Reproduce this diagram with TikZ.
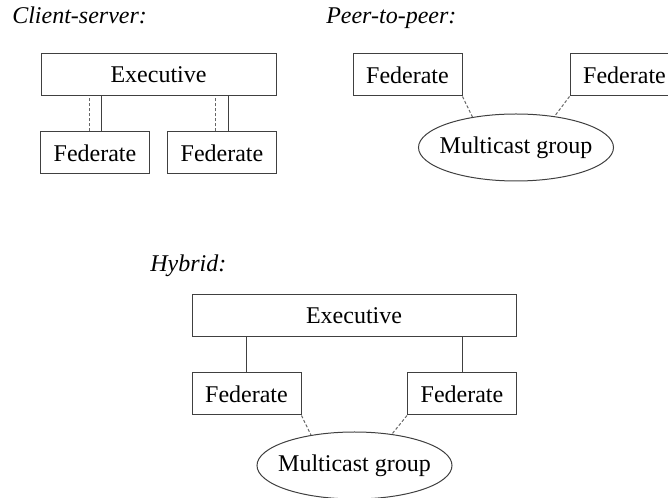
\documentclass[tikz,border=0pt]{standalone}
\usepackage{fontspec}
\setmainfont{Liberation Serif}
\usetikzlibrary{shapes.geometric}

\tikzset{
  box/.style={draw=black!75, line width=0.75pt, inner sep=0pt,
    minimum width=109*0.75pt, minimum height=42*0.75pt,
    font=\fontsize{18}{21}\selectfont},
  group/.style={ellipse, draw=black!75, line width=0.75pt, inner ysep=0pt, inner xsep=-6pt,
    minimum width=195*0.75pt, minimum height=67*0.75pt,
    font=\fontsize{18}{21}\selectfont},
  heading/.style={anchor=base west, inner sep=0pt,
    font=\itshape\fontsize{18}{21}\selectfont},
  link/.style={draw=black!75, line width=0.75pt},
  dlink/.style={draw=black!60, line width=0.75pt, dash pattern=on 2.25pt off 1.5pt},
}

\begin{document}
\begin{tikzpicture}[x=0.75pt, y=-0.75pt]
\clip (0,0) rectangle (668,498);
%----------------------------------------
% client-server
\node[heading] (cstitle) at (12,24) {Client-server:};
\node[box, minimum width=235*0.75pt] (csexec) at (158.5,75) {Executive};
\node[box] (csfedA) at (95,153) {Federate};
\node[box] (csfedB) at (222,153) {Federate};
\draw[dlink] ([xshift=-4.5pt]csfedA.north) -- ([xshift=-4.5pt]csfedA.north |- csexec.south);
\draw[link] ([xshift=4.5pt]csfedA.north) -- ([xshift=4.5pt]csfedA.north |- csexec.south);
\draw[dlink] ([xshift=-5.25pt]csfedB.north) -- ([xshift=-5.25pt]csfedB.north |- csexec.south);
\draw[link] ([xshift=4.5pt]csfedB.north) -- ([xshift=4.5pt]csfedB.north |- csexec.south);
%----------------------------------------
% peer-to-peer
\node[heading] (pptitle) at (326,24) {Peer-to-peer:};
\node[box] (ppfedA) at (407.5,75) {Federate};
\node[box] (ppfedB) at (624.5,75) {Federate};
\node[group] (ppmc) at (516,147.5) {Multicast group};
\draw[dlink] (ppfedA.south east) -- (ppmc.145);
\draw[dlink] (ppfedB.south west) -- (ppmc.39);
%----------------------------------------
% hybrid
\node[heading] (hytitle) at (150,272) {Hybrid:};
\node[box, minimum width=324*0.75pt] (hyexec) at (354,315.5) {Executive};
\node[box] (hyfedA) at (246.5,394) {Federate};
\node[box] (hyfedB) at (462,394) {Federate};
\node[group] (hymc) at (354.5,465.5) {Multicast group};
\draw[link] (hyfedA.north) -- (hyfedA.north |- hyexec.south);
\draw[link] (hyfedB.north) -- (hyfedB.north |- hyexec.south);
\draw[dlink] (hyfedA.south east) -- (hymc.145);
\draw[dlink] (hyfedB.south west) -- (hymc.40);
\end{tikzpicture}
\end{document}
